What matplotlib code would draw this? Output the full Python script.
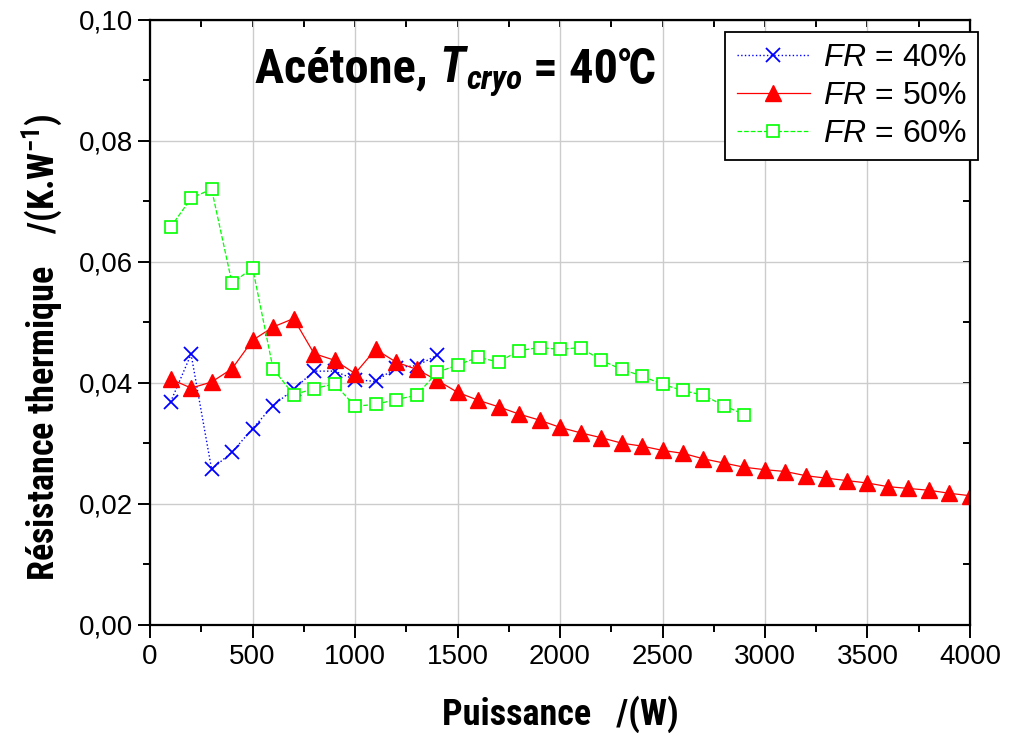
import matplotlib
matplotlib.use("Agg")
import matplotlib.pyplot as plt
from matplotlib import font_manager
from matplotlib.ticker import MultipleLocator, FuncFormatter

# puissance (W) et résistance thermique (K/W)
p_40 = [100, 200, 300, 400, 500, 600, 700, 800, 900, 1000, 1100, 1200, 1300, 1400]
r_40 = [0.0368, 0.0447, 0.0257, 0.0285, 0.0324, 0.0362, 0.0389, 0.0419, 0.0419,
        0.0405, 0.0402, 0.0425, 0.0428, 0.0445]

p_50 = [100, 200, 300, 400, 500, 600, 700, 800, 900, 1000,
        1100, 1200, 1300, 1400, 1500, 1600, 1700, 1800, 1900, 2000,
        2100, 2200, 2300, 2400, 2500, 2600, 2700, 2800, 2900, 3000,
        3100, 3200, 3300, 3400, 3500, 3600, 3700, 3800, 3900, 4000]
r_50 = [0.0406, 0.0391, 0.0401, 0.0423, 0.0470, 0.0492, 0.0506, 0.0448, 0.0437, 0.0415,
        0.0455, 0.0434, 0.0422, 0.0404, 0.0384, 0.0371, 0.0360, 0.0348, 0.0338, 0.0326,
        0.0317, 0.0309, 0.0300, 0.0295, 0.0288, 0.0283, 0.0274, 0.0267, 0.0260, 0.0256,
        0.0253, 0.0246, 0.0242, 0.0238, 0.0234, 0.0228, 0.0225, 0.0222, 0.0217, 0.0213]

p_60 = [100, 200, 300, 400, 500, 600, 700, 800, 900, 1000,
        1100, 1200, 1300, 1400, 1500, 1600, 1700, 1800, 1900, 2000,
        2100, 2200, 2300, 2400, 2500, 2600, 2700, 2800, 2900]
r_60 = [0.0657, 0.0705, 0.0720, 0.0564, 0.0590, 0.0423, 0.0380, 0.0390, 0.0398, 0.0361,
        0.0364, 0.0372, 0.0379, 0.0417, 0.0429, 0.0442, 0.0434, 0.0453, 0.0458, 0.0455,
        0.0458, 0.0437, 0.0422, 0.0411, 0.0397, 0.0387, 0.0379, 0.0362, 0.0347]

labels = ["40%", "50%", "60%"]

installed = {f.name for f in font_manager.fontManager.ttflist}
narrow = "DejaVu Sans"
for cand in ["Liberation Sans Narrow", "Roboto Condensed", "Arial Narrow",
             "Nimbus Sans Narrow", "Barlow Semi Condensed"]:
    if cand in installed:
        narrow = cand
        break
regular = "Liberation Sans" if "Liberation Sans" in installed else "DejaVu Sans"
nfont = dict(family=[narrow, "DejaVu Sans"], weight="bold", stretch="condensed")

plt.rcParams["font.family"] = regular
plt.rcParams["mathtext.fontset"] = "custom"
plt.rcParams["mathtext.it"] = regular + ":italic"
plt.rcParams["mathtext.rm"] = narrow + ":bold"

fig = plt.figure(figsize=(10.21, 7.33), dpi=100)
ax = fig.add_axes([0.147, 0.148, 0.803, 0.825])

ax.plot(p_40, r_40, color="#0000ff", ls=":", lw=1.0, marker="x", ms=10, mew=1.3,
        label=r"$FR$ = " + labels[0])
ax.plot(p_50, r_50, color="#ff0000", ls="-", lw=0.9, marker="^", ms=11.5,
        label=r"$FR$ = " + labels[1])
ax.plot(p_60, r_60, color="#00ff00", ls="--", lw=0.9, marker="s", ms=8.5, mfc="white",
        mew=1.2, label=r"$FR$ = " + labels[2])

ax.set_xlim(0, 4000)
ax.set_ylim(0, 0.10)
ax.xaxis.set_major_locator(MultipleLocator(500))
ax.xaxis.set_minor_locator(MultipleLocator(250))
ax.yaxis.set_major_locator(MultipleLocator(0.02))
ax.yaxis.set_minor_locator(MultipleLocator(0.01))
ax.yaxis.set_major_formatter(FuncFormatter(lambda v, pos: f"{v:.2f}".replace(".", ",")))
ax.grid(True, which="major", color="#cccccc", lw=1.0)
ax.set_axisbelow(True)

for s in ax.spines.values():
    s.set_linewidth(1.6)
ax.tick_params(which="major", direction="out", length=9, width=1.4, labelsize=20, pad=3)
ax.tick_params(which="minor", direction="out", length=5, width=1.4)
ax.tick_params(axis="x", which="major", pad=5)

top = ax.secondary_xaxis("top")
top.xaxis.set_major_locator(MultipleLocator(500))
top.xaxis.set_minor_locator(MultipleLocator(250))
top.tick_params(which="both", direction="in", length=5, width=1.4, labeltop=False)
right = ax.secondary_yaxis("right")
right.yaxis.set_major_locator(MultipleLocator(0.02))
right.yaxis.set_minor_locator(MultipleLocator(0.01))
right.tick_params(which="both", direction="in", length=5, width=1.4, labelright=False)

ax.set_xlabel("Puissance   /(W)", fontsize=26, labelpad=18, **nfont)
ax.set_ylabel(r"Résistance thermique    /(K.W$^{-1}$)", fontsize=26, **nfont)
ax.yaxis.set_label_coords(-0.104, 0.459)

# titre en morceaux (indice en italique)
t1 = ax.text(0.128, 0.897, "Acétone, ", transform=ax.transAxes, fontsize=35,
             ha="left", va="baseline", **nfont)
t2 = ax.annotate("T", xy=(1, 0), xycoords=t1, style="italic", fontsize=35,
                 ha="left", va="bottom", **nfont)
t3 = ax.annotate("cryo", xy=(1, 0), xycoords=t2, xytext=(1, 2), textcoords="offset points",
                 style="italic", fontsize=24, ha="left", va="baseline", **nfont)
ax.annotate(" = 40℃", xy=(1, 0), xycoords=(t3, t2), fontsize=35,
            ha="left", va="bottom", **nfont)

leg = ax.legend(loc="upper right", bbox_to_anchor=(1.01, 0.98), borderaxespad=0,
                fontsize=23, numpoints=1, handlelength=2.3, handletextpad=0.4,
                labelspacing=0.25, fancybox=False, framealpha=1, edgecolor="black",
                borderpad=0.35)
leg.get_frame().set_linewidth(1.3)

fig.savefig("out.png", dpi=100)
